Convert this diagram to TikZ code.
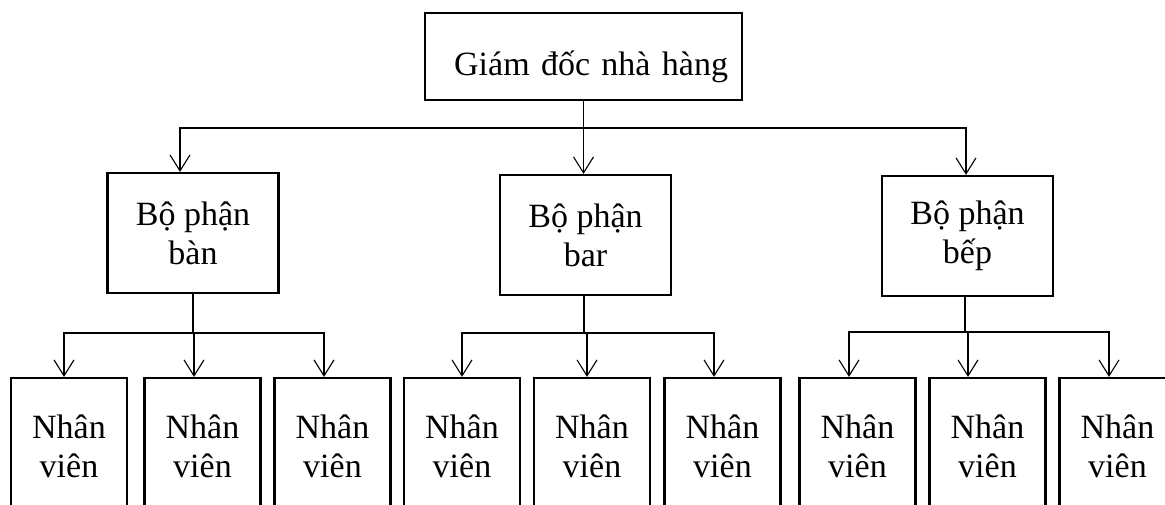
\documentclass[tikz,border=0pt]{standalone}
\usepackage{fontspec}
\setmainfont{Liberation Serif}
\usetikzlibrary{arrows.meta}
\begin{document}
\begin{tikzpicture}[
  x=1pt, y=-1pt,
  box/.style={rectangle, draw, line width=2.2pt, inner sep=0pt, align=center, font=\fontsize{34}{39}\selectfont},
  dept/.style={box, minimum width=171pt, minimum height=120pt},
  staff/.style={box, minimum width=116pt, minimum height=136pt},
  link/.style={line width=1.1pt},
  arr/.style={link, -{Straight Barb[length=16pt, width=20pt]}}
]
\useasboundingbox (0,0) rectangle (1165,504);
\clip (0,0) rectangle (1165,504);

\node[box, minimum width=317pt, minimum height=87pt, text width=289pt, align=right, text height=37pt, text depth=0pt] (gd) at (583.5,56.5) {Giám đốc nhà hàng};

% Departments
\node[dept] (ban) at (193,233) {Bộ phận\\bàn};
\node[dept, below of=gd, node distance=178.5pt, xshift=2pt] (bar) {Bộ phận\\bar};
\node[dept] (bep) at (967.5,236) {Bộ phận\\bếp};

% Staff
\node[staff] (nv1) at (69,446) {Nhân\\viên};
\node[staff, right of=nv1, node distance=133.5pt] (nv2) {Nhân\\viên};
\node[staff, right of=nv2, node distance=130pt] (nv3) {Nhân\\viên};
\node[staff, right of=nv3, node distance=129.5pt] (nv4) {Nhân\\viên};
\node[staff, right of=nv4, node distance=130pt] (nv5) {Nhân\\viên};
\node[staff, right of=nv5, node distance=130.5pt] (nv6) {Nhân\\viên};
\node[staff, right of=nv6, node distance=135pt] (nv7) {Nhân\\viên};
\node[staff, right of=nv7, node distance=130pt] (nv8) {Nhân\\viên};
\node[staff, right of=nv8, node distance=130pt] (nv9) {Nhân\\viên};

% Bus lines
\coordinate (bus0) at (0,128);
\coordinate (bus1) at (0,333);
\coordinate (bus2) at (0,333);
\coordinate (bus3) at (0,332);

\draw[arr] (gd.south) -- (gd.south |- bar.north);
\draw[arr] (gd.south |- bus0) -| ([xshift=-13pt]ban.north);
\draw[arr] (gd.south |- bus0) -| ([xshift=-1.5pt]bep.north);

\draw[link] (ban.south) -- (ban.south |- bus1);
\draw[arr] (ban.south |- bus1) -| ([xshift=-5pt]nv1.north);
\draw[arr] (ban.south |- bus1) -| ([xshift=-8.5pt]nv2.north);
\draw[arr] (ban.south |- bus1) -| ([xshift=-8.5pt]nv3.north);

\draw[link] ([xshift=-1.5pt]bar.south) -- ([xshift=-1.5pt]bar.south |- bus2);
\draw[arr] ([xshift=-1.5pt]bar.south |- bus2) -| (nv4.north);
\draw[arr] ([xshift=-1.5pt]bar.south |- bus2) -| ([xshift=-5pt]nv5.north);
\draw[arr] ([xshift=-1.5pt]bar.south |- bus2) -| ([xshift=-8.5pt]nv6.north);

\draw[link] ([xshift=-2.5pt]bep.south) -- ([xshift=-2.5pt]bep.south |- bus3);
\draw[arr] ([xshift=-2.5pt]bep.south |- bus3) -| ([xshift=-8.5pt]nv7.north);
\draw[arr] ([xshift=-2.5pt]bep.south |- bus3) -| ([xshift=-19.5pt]nv8.north);
\draw[arr] ([xshift=-2.5pt]bep.south |- bus3) -| ([xshift=-8.5pt]nv9.north);
\end{tikzpicture}
\end{document}
